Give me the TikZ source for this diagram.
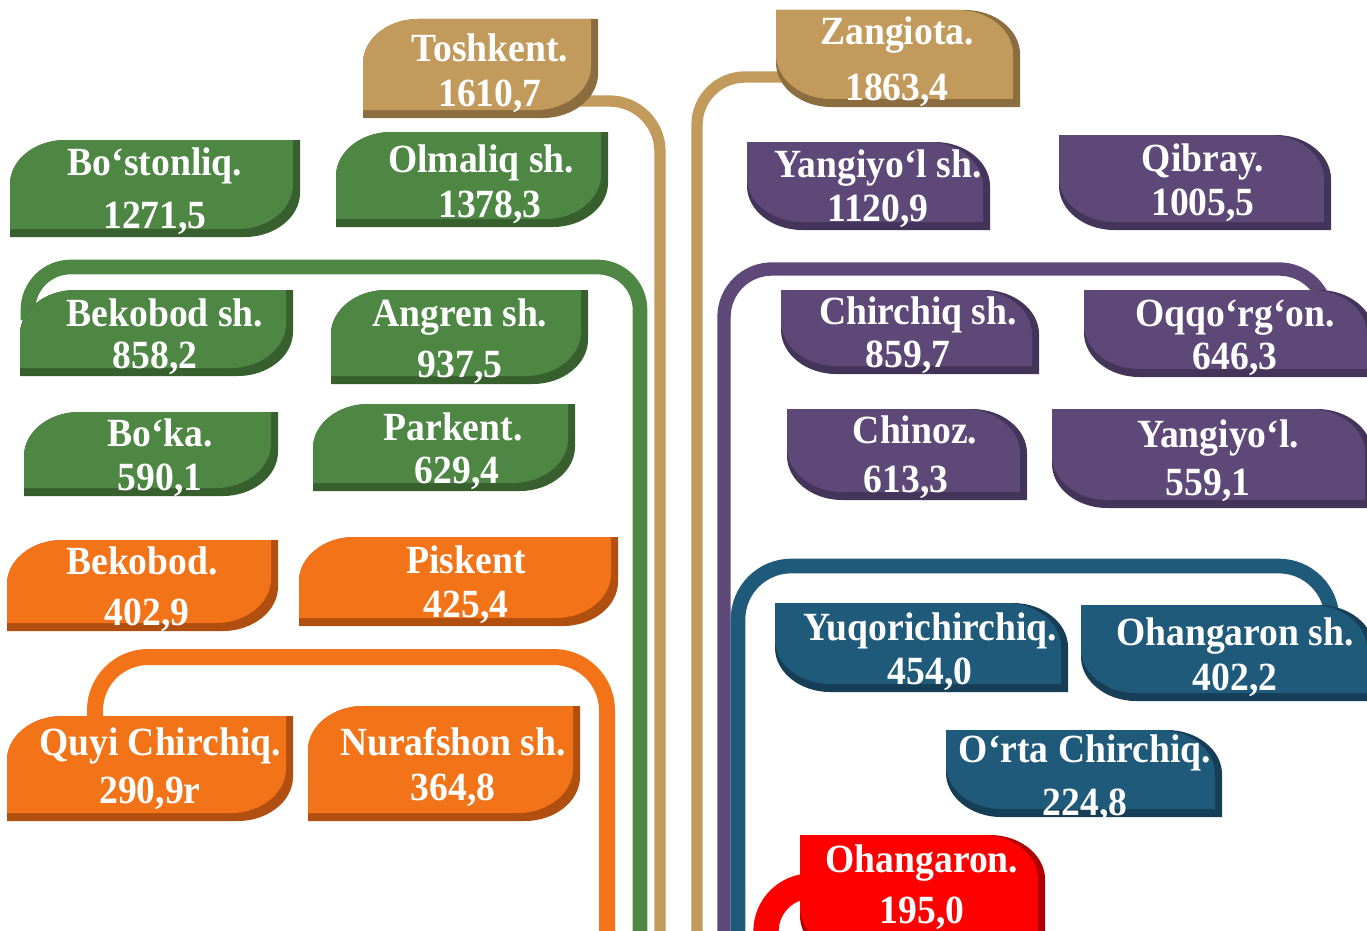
\documentclass[tikz,border=0pt]{standalone}
\usepackage{fontspec}
\setmainfont{Liberation Serif}[FakeStretch=0.94]
\usetikzlibrary{calc}
\definecolor{tanF}{HTML}{C29A5C}\definecolor{tanS}{HTML}{8C6D40}
\definecolor{grF}{HTML}{4E8644}\definecolor{grS}{HTML}{38602F}
\definecolor{puF}{HTML}{5E4878}\definecolor{puS}{HTML}{45345A}
\definecolor{orF}{HTML}{F27318}\definecolor{orS}{HTML}{B04F10}
\definecolor{blF}{HTML}{1F5A7B}\definecolor{blS}{HTML}{163F57}
\definecolor{rdF}{HTML}{FF0000}\definecolor{rdS}{HTML}{B00000}
\tikzset{
 lbl/.style={anchor=base,text=white,inner sep=0pt,font=\fontsize{30}{30}\selectfont\bfseries},
 boxnode/.style={inner sep=0pt,outer sep=0pt,anchor=north west},
 bandline/.style={line width=#1,line cap=butt},
}
% L type: rounded top-left and bottom-right
\newcommand\Lbox[7]{%
 \pgfmathsetmacro\xa{#2}\pgfmathsetmacro\ya{#3}%
 \pgfmathsetmacro\xb{#4}\pgfmathsetmacro\yb{#5}%
 \pgfmathsetmacro\xm{#4-7}\pgfmathsetmacro\ym{#5-8}%
 \fill[#7] ({\xa},{\yb}) -- ({\xa},{\ya+44}) .. controls ({\xa},{\ya+20}) and ({\xa+25},{\ya}) .. ({\xa+55},{\ya}) -- ({\xb},{\ya}) -- ({\xb},{\yb-44}) .. controls ({\xb},{\yb-20}) and ({\xb-25},{\yb}) .. ({\xb-55},{\yb}) -- cycle;
 \fill[#6] ({\xa},{\ym}) -- ({\xa},{\ya+44}) .. controls ({\xa},{\ya+20}) and ({\xa+25},{\ya}) .. ({\xa+55},{\ya}) -- ({\xm},{\ya}) -- ({\xm},{\ym-44}) .. controls ({\xm},{\ym-20}) and ({\xm-25},{\ym}) .. ({\xm-55},{\ym}) -- cycle;
 \node[boxnode,minimum width={(\xm-\xa)*0.75pt},minimum height={(\ym-\ya)*0.75pt}] (#1) at ({\xa},{\ya}) {};
}
% R type: rounded top-right and bottom-left
\newcommand\Rbox[7]{%
 \pgfmathsetmacro\xa{#2}\pgfmathsetmacro\ya{#3}%
 \pgfmathsetmacro\xb{#4}\pgfmathsetmacro\yb{#5}%
 \pgfmathsetmacro\xm{#4-7}\pgfmathsetmacro\ym{#5-8}%
 \fill[#7] ({\xa},{\ya}) -- ({\xb-55},{\ya}) .. controls ({\xb-25},{\ya}) and ({\xb},{\ya+20}) .. ({\xb},{\ya+44}) -- ({\xb},{\yb}) -- ({\xa+55},{\yb}) .. controls ({\xa+25},{\yb}) and ({\xa},{\yb-20}) .. ({\xa},{\yb-44}) -- cycle;
 \fill[#6] ({\xa},{\ya}) -- ({\xm-55},{\ya}) .. controls ({\xm-25},{\ya}) and ({\xm},{\ya+20}) .. ({\xm},{\ya+44}) -- ({\xm},{\ym}) -- ({\xa+55},{\ym}) .. controls ({\xa+25},{\ym}) and ({\xa},{\ym-20}) .. ({\xa},{\ym-44}) -- cycle;
 \node[boxnode,minimum width={(\xm-\xa)*0.75pt},minimum height={(\ym-\ya)*0.75pt}] (#1) at ({\xa},{\ya}) {};
}
\newcommand\lbls[7]{%
 \node[lbl] (#1-a) at (#2,#3) {#4};
 \node[lbl] (#1-b) at (#5,#6) {#7};
}
\begin{document}
\begin{tikzpicture}[x=0.75pt,y=-0.75pt]
\useasboundingbox (0,0) rectangle (1367,931);
\clip (0,0) rectangle (1367,931);
% --- end coordinates of connectors (below the page edge)
\coordinate (oEnd) at (607,960);
\coordinate (gEnd) at (640,960);
\coordinate (tEndA) at (660,960);
\coordinate (tEndB) at (697,960);
\coordinate (pEnd) at (724,960);
\coordinate (bEnd) at (738,960);
\coordinate (rEnd) at (766,960);
% --- invisible pass so that connector end boxes exist before the connectors
\begin{scope}[opacity=0]
 \Lbox{tosh}{363}{19}{598}{118}{tanF}{tanS}
 \Rbox{zang}{776}{10}{1020}{107}{tanF}{tanS}
 \Lbox{bsh}{20}{290}{293}{376}{grF}{grS}
 \Rbox{oqq}{1084}{290}{1374}{377}{puF}{puS}
 \Rbox{ohs}{1081}{605}{1374}{701}{blF}{blS}
 \Lbox{qc}{7}{716}{293}{821}{orF}{orS}
 \Rbox{ohg}{800}{835}{1045}{960}{rdF}{rdS}
\end{scope}
% --- connectors
\draw[bandline=8.5pt,tanF,rounded corners=38pt] ($(tosh.south east)+(-20,-9)$) -| (tEndA);
\draw[bandline=8.5pt,tanF,rounded corners=36pt] ($(zang.south west)+(20,-22)$) -| (tEndB);
\draw[bandline=11pt,grF,rounded corners=32pt] ($(bsh.north west)+(8,30)$) -- ++(0,-53) -| (gEnd);
\draw[bandline=10pt,puF,rounded corners=36pt] ($(oqq.north west)+(243,25)$) -- ++(0,-46) -| (pEnd);
\draw[bandline=11pt,blF,rounded corners=40pt] ($(ohs.north west)+(251,25)$) -- ++(0,-64) -| (bEnd);
\draw[bandline=12pt,orF,rounded corners=40pt] ($(qc.north west)+(88,25)$) -- ++(0,-84) -| (oEnd);
\draw[bandline=19pt,rdF,rounded corners=34pt] ($(ohg.north west)+(20,51)$) -| (rEnd);
% --- boxes
\Lbox{tosh}{363}{19}{598}{118}{tanF}{tanS}
\Rbox{zang}{776}{10}{1020}{107}{tanF}{tanS}
\Lbox{bost}{10}{140}{300}{237}{grF}{grS}
\Lbox{olm}{336}{132}{608}{227}{grF}{grS}
\Rbox{yash}{747}{142}{990}{230}{puF}{puS}
\Rbox{qib}{1059}{135}{1331}{230}{puF}{puS}
\Lbox{bsh}{20}{290}{293}{376}{grF}{grS}
\Lbox{ang}{331}{290}{588}{384}{grF}{grS}
\Rbox{chsh}{781}{290}{1039}{374}{puF}{puS}
\Rbox{oqq}{1084}{290}{1374}{377}{puF}{puS}
\Lbox{boka}{24}{412}{278}{496}{grF}{grS}
\Lbox{park}{313}{404}{575}{491}{grF}{grS}
\Rbox{chin}{787}{409}{1027}{500}{puF}{puS}
\Rbox{yang}{1052}{409}{1372}{508}{puF}{puS}
\Lbox{bek}{7}{540}{278}{631}{orF}{orS}
\Lbox{pisk}{299}{537}{618}{626}{orF}{orS}
\Rbox{yuq}{775}{603}{1068}{692}{blF}{blS}
\Rbox{ohs}{1081}{605}{1374}{701}{blF}{blS}
\Lbox{qc}{7}{716}{293}{821}{orF}{orS}
\Lbox{nur}{308}{706}{580}{821}{orF}{orS}
\Rbox{orta}{946}{730}{1222}{817}{blF}{blS}
\Rbox{ohg}{800}{835}{1045}{960}{rdF}{rdS}
% --- labels
\lbls{tosh}{490}{62}{Toshkent.}{490}{107}{1610,7}
\lbls{zang}{897}{45}{Zangiota.}{897}{100}{1863,4}
\lbls{bost}{155}{175}{Bo‘stonliq.}{155}{228}{1271,5}
\lbls{olm}{481}{172}{Olmaliq sh.}{490}{217}{1378,3}
\lbls{yash}{878}{177}{Yangiyo‘l sh.}{878}{221}{1120,9}
\lbls{qib}{1203}{171}{Qibray.}{1203}{215}{1005,5}
\lbls{bsh}{165}{326}{Bekobod sh.}{155}{368}{858,2}
\lbls{ang}{460}{326}{Angren sh.}{460}{377}{937,5}
\lbls{chsh}{918}{324}{Chirchiq sh.}{908}{367}{859,7}
\lbls{oqq}{1235}{326}{Oqqo‘rg‘on.}{1235}{369}{646,3}
\lbls{boka}{160}{446}{Bo‘ka.}{160}{490}{590,1}
\lbls{park}{453}{440}{Parkent.}{457}{483}{629,4}
\lbls{chin}{915}{443}{Chinoz.}{906}{492}{613,3}
\lbls{yang}{1218}{447}{Yangiyo‘l.}{1208}{495}{559,1}
\lbls{bek}{142}{574}{Bekobod.}{147}{625}{402,9}
\lbls{pisk}{466}{573}{Piskent}{466}{617}{425,4}
\lbls{yuq}{930}{640}{Yuqorichirchiq.}{930}{684}{454,0}
\lbls{ohs}{1235}{645}{Ohangaron sh.}{1235}{690}{402,2}
\lbls{qc}{160}{755}{Quyi Chirchiq.}{150}{803}{290,9r}
\lbls{nur}{453}{755}{Nurafshon sh.}{453}{800}{364,8}
\lbls{orta}{1085}{762}{O‘rta Chirchiq.}{1085}{815}{224,8}
\lbls{ohg}{922}{872}{Ohangaron.}{922}{923}{195,0}
\end{tikzpicture}
\end{document}
